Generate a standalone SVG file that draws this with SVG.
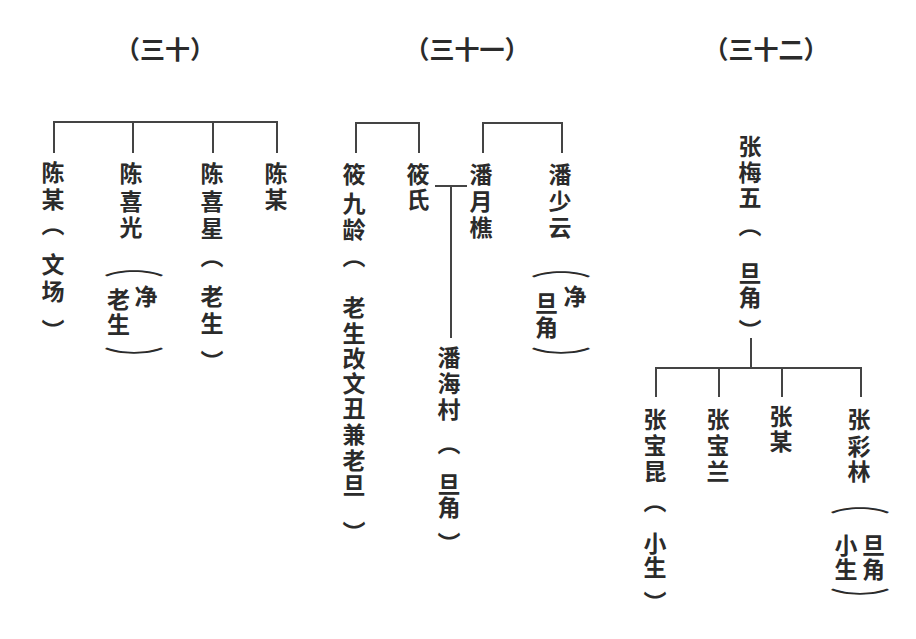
<svg xmlns="http://www.w3.org/2000/svg" width="916" height="639" viewBox="0 0 916 639">
<style>
text{font-family:"Noto Sans CJK SC","Noto Sans CJK TC",sans-serif;font-weight:700;fill:#2b2b2b}
.v{font-size:23px;writing-mode:vertical-rl}
.h{font-size:25px}
.arc{font-size:23px;font-weight:400;text-anchor:middle;dominant-baseline:central}
.ln{fill:none;stroke:#444;stroke-width:2}
</style>
<rect width="916" height="639" fill="#fff"/>
<g id="titles">
<text class="h" x="165" y="59" text-anchor="middle">（三十）</text>
<text class="h" x="467" y="59" text-anchor="middle">（三十一）</text>
<text class="h" x="766" y="59" text-anchor="middle">（三十二）</text>
</g>
<g id="connectors">
<path class="ln" d="M54,153V122H277V153M133,122V153M213,122V153"/>
<path class="ln" d="M356,153V123H419V153M483,153V123H562V153M435,186H467M451,186V338"/>
<path class="ln" d="M751,338V368M656,397V368H861V397M719,368V397M782,368V397"/>
</g>
<g id="n-chenmou1"><text class="v" x="53" y="161 187.5 212.5 252.5 280 319">陈某（文场）</text></g>
<g id="n-chenxiguang">
<text class="v" x="131" y="161.5 189.5 216">陈喜光</text>
<text class="arc" transform="translate(134,264) scale(2.65,1)">︵</text>
<text class="v" x="146" y="285">净</text>
<text class="v" x="118.5" y="287.5 312.5">老生</text>
<text class="arc" transform="translate(134,357) scale(2.65,1)">︶</text>
</g>
<g id="n-chenxixing"><text class="v" x="212" y="161.5 189.5 216.5 244.5 284.5 312 349.5">陈喜星（老生）</text></g>
<g id="n-chenmou2"><text class="v" x="276" y="161.5 187.5">陈某</text></g>
<g id="n-xiaojiuling"><text class="v" x="354" y="162.5 191.5 217.5 244.5 296 321.5 346.5 371.5 396.5 422.5 448.5 473.5 520.5">筱九龄（老生改文丑兼老旦）</text></g>
<g id="n-xiaoshi"><text class="v" x="418" y="162.5 187.5">筱氏</text></g>
<g id="n-panyueqiao"><text class="v" x="481" y="162.5 189.5 216">潘月樵</text></g>
<g id="n-panshaoyun">
<text class="v" x="560" y="162.5 189.5 216">潘少云</text>
<text class="arc" transform="translate(561,265.5) scale(2.65,1)">︵</text>
<text class="v" x="575" y="285">净</text>
<text class="v" x="546.5" y="291.5 316">旦角</text>
<text class="arc" transform="translate(561,357) scale(2.65,1)">︶</text>
</g>
<g id="n-panhaicun"><text class="v" x="449" y="346 371.5 397.5 431.5 472.5 496 531.5">潘海村（旦角）</text></g>
<g id="n-zhangmeiwu"><text class="v" x="750" y="134.5 161 185.5 214 262 286 318.5">张梅五（旦角）</text></g>
<g id="n-zhangbaokun"><text class="v" x="655" y="407.5 433.5 459.5 489.5 531.5 555.5 590.5">张宝昆（小生）</text></g>
<g id="n-zhangbaolan"><text class="v" x="718" y="407.5 433.5 459.5">张宝兰</text></g>
<g id="n-zhangmou"><text class="v" x="781" y="404.5 430">张某</text></g>
<g id="n-zhangcailin">
<text class="v" x="859" y="407.5 434.5 459.5">张彩林</text>
<text class="arc" transform="translate(860,501) scale(2.65,1)">︵</text>
<text class="v" x="873.5" y="533.5 557.5">旦角</text>
<text class="v" x="846" y="533.5 557.5">小生</text>
<text class="arc" transform="translate(860,598) scale(2.65,1)">︶</text>
</g>
</svg>
